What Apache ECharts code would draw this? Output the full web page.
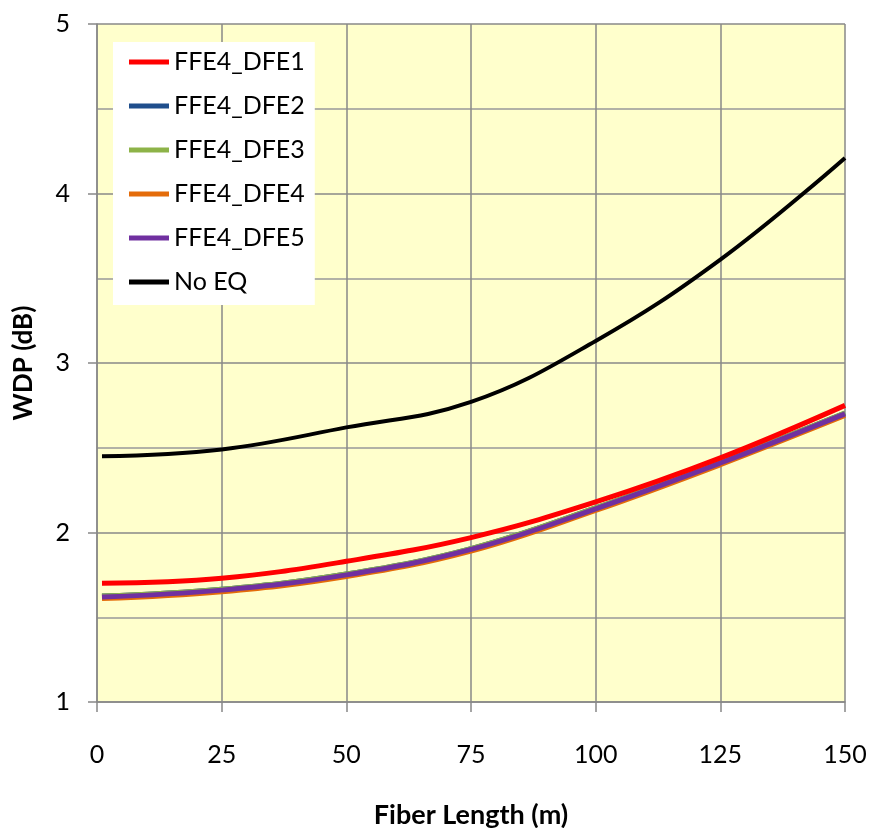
<!DOCTYPE html>
<html>
<head>
<meta charset="utf-8">
<script src="https://cdn.jsdelivr.net/npm/echarts@6/dist/echarts.min.js"></script>
<style>
html,body{margin:0;padding:0;background:#fff;}
#chart{width:869px;height:828px;}
</style>
</head>
<body>
<div id="chart"></div>
<script>
const fiberLength = [1, 25, 50, 75, 100, 125, 150];
const seriesNames = ['FFE4_DFE1', 'FFE4_DFE2', 'FFE4_DFE3', 'FFE4_DFE4', 'FFE4_DFE5', 'No EQ'];
const dfe1 = [1.70, 1.73, 1.83, 1.97, 2.18, 2.44, 2.75];
const dfe2 = [1.625, 1.665, 1.755, 1.905, 2.145, 2.415, 2.705];
const dfe3 = [1.625, 1.665, 1.755, 1.905, 2.145, 2.415, 2.705];
const dfe4 = [1.61, 1.65, 1.74, 1.89, 2.13, 2.40, 2.69];
const dfe5 = [1.62, 1.66, 1.75, 1.90, 2.14, 2.41, 2.70];
const noEq = [2.45, 2.49, 2.62, 2.77, 3.13, 3.61, 4.21];
const xTicks = [0, 25, 50, 75, 100, 125, 150];
const yTicks = [1, 2, 3, 4, 5];

const colors = ['#FF0000', '#1F4E8C', '#8DB348', '#E46C0A', '#7030A0', '#000000'];
const values = [dfe1, dfe2, dfe3, dfe4, dfe5, noEq];
const widths = [5, 5, 5, 5, 5, 4];
const font = 'Lato';

const chart = echarts.init(document.getElementById('chart'));
chart.setOption({
  animation: false,
  backgroundColor: '#ffffff',
  color: colors,
  grid: { left: 97, right: 24, top: 24, bottom: 126, show: true, backgroundColor: '#FFFFCC', borderWidth: 0, containLabel: false, outerBoundsMode: 'none' },
  legend: {
    orient: 'vertical', left: 113, top: 42,
    backgroundColor: '#ffffff', padding: [7, 10, 10, 16],
    itemWidth: 40, itemHeight: 5, itemGap: 18, icon: 'rect',
    textStyle: { fontFamily: font, fontSize: 25, lineHeight: 26, color: '#000' },
    data: seriesNames
  },
  xAxis: {
    type: 'value', min: xTicks[0], max: xTicks[xTicks.length - 1], interval: 25,
    name: 'Fiber Length (m)', nameLocation: 'middle', nameGap: 100,
    nameTextStyle: { fontFamily: font, fontSize: 27, fontWeight: 'bold', color: '#000' },
    axisLine: { onZero: false, lineStyle: { color: '#888888', width: 1.5 } },
    axisTick: { show: true, inside: false, length: 10, lineStyle: { color: '#888888', width: 1.5 } },
    axisLabel: { fontFamily: font, fontSize: 25, color: '#000', margin: 40 },
    splitLine: { show: true, lineStyle: { color: '#888888', width: 1.5 } }
  },
  yAxis: {
    type: 'value', min: yTicks[0], max: yTicks[yTicks.length - 1], interval: 1,
    name: 'WDP (dB)', nameLocation: 'middle', nameGap: 60, nameRotate: 90,
    nameTextStyle: { fontFamily: font, fontSize: 26, fontWeight: 'bold', color: '#000' },
    axisLine: { show: true, lineStyle: { color: '#888888', width: 1.5 } },
    axisTick: { show: true, inside: false, length: 9, lineStyle: { color: '#888888', width: 1.5 } },
    axisLabel: { fontFamily: font, fontSize: 25, color: '#000', margin: 27 },
    splitLine: { show: true, lineStyle: { color: '#888888', width: 1.5 } },
    minorTick: { show: false, splitNumber: 2 },
    minorSplitLine: { show: true, lineStyle: { color: '#999999', width: 1.5 } }
  },
  series: seriesNames.map((n, i) => ({
    name: n, type: 'line', smooth: 0.4, showSymbol: false, symbol: 'none',
    data: fiberLength.map((x, j) => [x, values[i][j]]),
    lineStyle: { width: widths[i], color: colors[i] },
    z: i === 0 ? 8 : 3 + i
  }))
});
</script>
</body>
</html>
